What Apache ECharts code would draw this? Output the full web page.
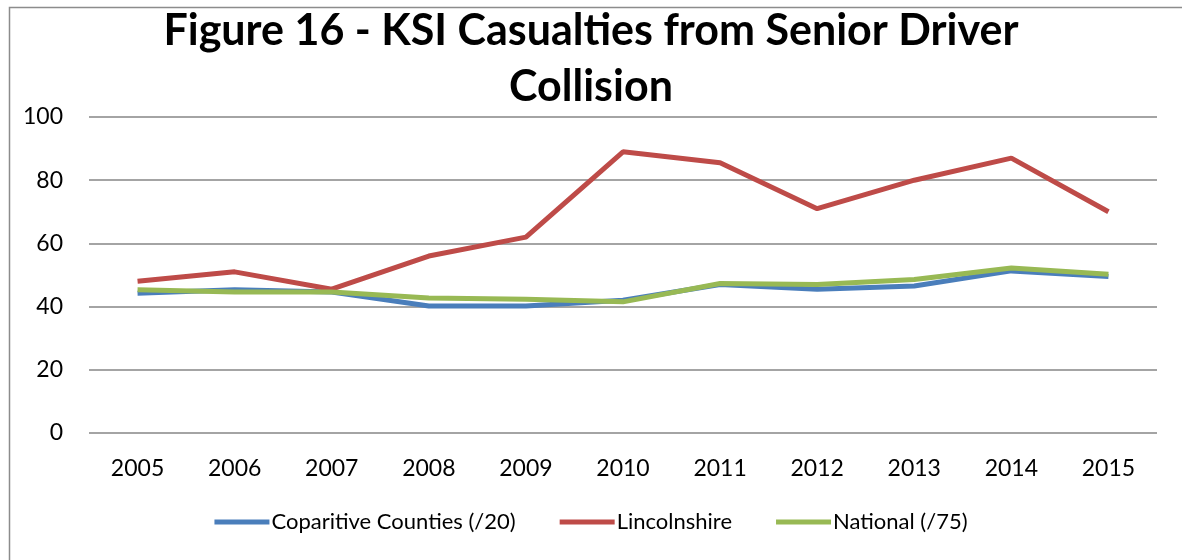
<!DOCTYPE html>
<html>
<head>
<meta charset="utf-8">
<script src="https://cdn.jsdelivr.net/npm/echarts@6/dist/echarts.min.js"></script>
<style>
  html, body { margin: 0; padding: 0; background: #fff; }
  #chart { width: 1182px; height: 560px; }
</style>
</head>
<body>
<div id="chart"></div>
<script>
const years = ['2005', '2006', '2007', '2008', '2009', '2010', '2011', '2012', '2013', '2014', '2015'];
const comparativeCounties = [44.2, 45.3, 44.6, 40.2, 40.2, 42.0, 47.0, 45.5, 46.5, 51.3, 49.5];
const lincolnshire = [48, 51, 45.5, 56, 62, 89, 85.5, 71, 80, 87, 70];
const national = [45.3, 44.6, 44.6, 42.7, 42.3, 41.5, 47.3, 47.0, 48.6, 52.2, 50.2];
const yTicks = [0, 20, 40, 60, 80, 100];

const font = 'Lato, "Liberation Sans", sans-serif';
const chart = echarts.init(document.getElementById('chart'), null, { renderer: 'canvas' });

chart.setOption({
  animation: false,
  backgroundColor: '#ffffff',
  textStyle: { fontFamily: font, color: '#000' },
  title: {
    text: 'Figure 16 - KSI Casualties from Senior Driver\nCollision',
    left: 'center',
    top: -2,
    textStyle: { fontFamily: font, fontSize: 43, fontWeight: 'bold', color: '#000', lineHeight: 56 }
  },
  graphic: [{
    type: 'rect',
    left: 7, top: 5,
    shape: { width: 1200, height: 600 },
    style: { fill: 'none', stroke: '#8c8c8c', lineWidth: 1.5 },
    silent: true
  }],
  grid: { left: 89, right: 25, top: 117, bottom: 127, containLabel: false },
  legend: {
    bottom: 22,
    left: 'center',
    icon: 'rect',
    itemWidth: 55,
    itemHeight: 5,
    itemGap: 44,
    textStyle: { fontFamily: font, fontSize: 22, color: '#000', padding: [0, 0, 0, -3] },
    data: ['Coparitive Counties (/20)', 'Lincolnshire', 'National (/75)']
  },
  xAxis: {
    type: 'category',
    data: years,
    boundaryGap: true,
    axisLine: { show: false },
    axisTick: { show: false },
    axisLabel: { fontFamily: font, fontSize: 23, color: '#000', margin: 24 }
  },
  yAxis: {
    type: 'value',
    min: yTicks[0],
    max: yTicks[yTicks.length - 1],
    interval: 20,
    axisLine: { show: false },
    axisTick: { show: false },
    axisLabel: { fontFamily: font, fontSize: 23, color: '#000', margin: 26 },
    splitLine: { lineStyle: { color: '#868686', width: 1.5 } }
  },
  series: [
    {
      name: 'Coparitive Counties (/20)', type: 'line', data: comparativeCounties,
      symbol: 'none', lineStyle: { color: '#4a7ebb', width: 5 }, itemStyle: { color: '#4a7ebb' }
    },
    {
      name: 'Lincolnshire', type: 'line', data: lincolnshire,
      symbol: 'none', lineStyle: { color: '#be4b48', width: 5 }, itemStyle: { color: '#be4b48' }
    },
    {
      name: 'National (/75)', type: 'line', data: national,
      symbol: 'none', lineStyle: { color: '#98b954', width: 5 }, itemStyle: { color: '#98b954' }
    }
  ]
});
</script>
</body>
</html>
